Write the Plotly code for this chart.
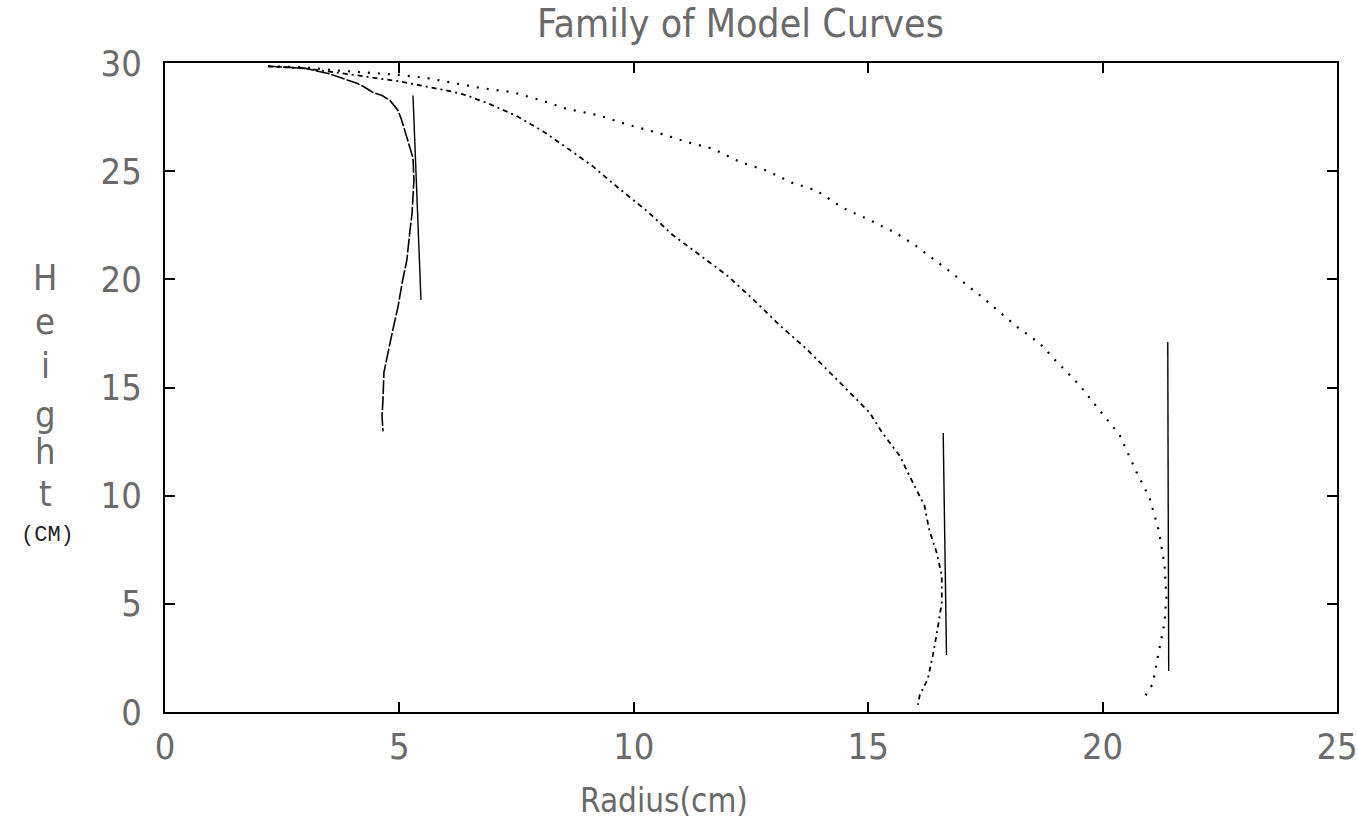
import plotly.graph_objects as go

# ---- data ----
# curve 1 (small radius, near-solid dashed line)
c1_r = [2.2, 3.0, 3.5, 3.94, 4.09, 4.26, 4.43, 4.63, 4.8, 4.97, 5.05, 5.14, 5.22, 5.29, 5.31,
        5.29, 5.27, 5.22, 5.16, 5.07, 4.97, 4.86, 4.75, 4.67, 4.65, 4.63, 4.65]
c1_h = [29.85, 29.75, 29.5, 29.2, 29.07, 28.88, 28.65, 28.5, 28.27, 27.81, 27.35, 26.7, 26.11, 25.6, 24.58,
        23.66, 23.06, 22.14, 20.9, 19.97, 18.73, 17.67, 16.61, 15.7, 14.45, 13.67, 12.97]
# vertical reference line for curve 1
v1_r = [5.29, 5.46]
v1_h = [28.5, 19.05]

# curve 2 (dash-dot line)
c2_r = [2.2, 3.0, 3.7, 4.4, 5.0, 5.6, 6.14, 6.44, 6.93, 7.5, 8.06, 8.57, 9.13, 9.7, 10.28, 10.83,
        11.4, 11.98, 12.54, 13.11, 13.69, 14.24, 14.6, 15.03, 15.3, 15.67, 15.95, 16.2, 16.3,
        16.46, 16.57, 16.57, 16.48, 16.38, 16.27, 16.1, 16.06]
c2_h = [29.85, 29.75, 29.55, 29.35, 29.15, 28.9, 28.67, 28.5, 28.1, 27.55, 26.85, 26.08, 25.22, 24.17, 23.16, 22.05,
        21.14, 20.2, 19.09, 17.88, 16.77, 15.56, 14.8, 13.84, 12.91, 11.85, 10.61, 9.54, 8.43,
        7.37, 6.31, 5.07, 3.83, 2.63, 1.52, 0.78, 0.33]
v2_r = [16.6, 16.67]
v2_h = [12.9, 2.63]

# curve 3 (dotted line)
c3_r = [2.2, 3.0, 3.7, 4.3, 5.0, 5.6, 6.14, 6.72, 7.42, 8.0, 8.57, 9.27, 9.85, 10.55, 11.13, 11.68,
        12.26, 12.84, 13.37, 13.9, 14.46, 15.03, 15.6, 16.03, 16.74, 17.44, 18.17, 18.66, 19.0,
        19.5, 20.0, 20.36, 20.72, 21.0, 21.2, 21.32, 21.36, 21.32, 21.2, 21.07, 20.85]
c3_h = [29.85, 29.8, 29.65, 29.55, 29.45, 29.3, 29.08, 28.85, 28.65, 28.29, 27.88, 27.57, 27.16, 26.75, 26.35, 26.04,
        25.43, 25.02, 24.47, 24.1, 23.3, 22.74, 22.13, 21.53, 20.37, 19.16, 17.81, 17.04, 16.24,
        15.13, 13.77, 12.82, 11.11, 9.91, 8.37, 6.85, 5.3, 4.1, 2.8, 1.3, 0.53]
v3_r = [21.39, 21.41]
v3_h = [17.1, 1.9]

x_ticks = [0, 5, 10, 15, 20, 25]
y_ticks = [0, 5, 10, 15, 20, 25, 30]
title_text = "Family of Model Curves"
x_title = "Radius(cm)"
y_letters = ["H", "e", "i", "g", "h", "t"]
y_unit = "(CM)"

DOT_FONT = "Liberation Sans Narrow, DejaVu Sans Condensed, Arial Narrow, sans-serif"
GREY = "#6a6a6a"

W, H = 1357, 824
pl, pr, pt, pb = 165, 20, 63, 112
pw, ph = W - pl - pr, H - pt - pb

fig = go.Figure()
fig.add_trace(go.Scatter(x=c1_r, y=c1_h, mode="lines",
                         line=dict(color="black", width=1.6, dash="14px,2px")))
fig.add_trace(go.Scatter(x=v1_r, y=v1_h, mode="lines", line=dict(color="black", width=1.4)))
fig.add_trace(go.Scatter(x=c2_r, y=c2_h, mode="lines",
                         line=dict(color="black", width=1.8, dash="5px,4px,2px,4px")))
fig.add_trace(go.Scatter(x=v2_r, y=v2_h, mode="lines", line=dict(color="black", width=1.4)))
fig.add_trace(go.Scatter(x=c3_r, y=c3_h, mode="lines",
                         line=dict(color="black", width=2.2, dash="2px,8px")))
fig.add_trace(go.Scatter(x=v3_r, y=v3_h, mode="lines", line=dict(color="black", width=1.4)))

axis_common = dict(showline=True, linecolor="black", linewidth=2, mirror="ticks",
                   ticks="inside", ticklen=10, tickwidth=1.5, tickcolor="black",
                   showgrid=False, zeroline=False,
                   tickfont=dict(family=DOT_FONT, size=36, color=GREY))

fig.update_xaxes(range=[0, 25], tickvals=x_ticks, ticktext=[str(v) for v in x_ticks],
                 ticklabelstandoff=2, ticklabeloverflow="allow", **axis_common)
fig.update_yaxes(range=[0, 30], tickvals=y_ticks, ticktext=[str(v) for v in y_ticks],
                 ticklabelstandoff=14, ticklabeloverflow="allow", **axis_common)

fig.update_layout(
    width=W, height=H,
    margin=dict(l=pl, r=pr, t=pt, b=pb, autoexpand=False),
    paper_bgcolor="white", plot_bgcolor="white",
    showlegend=False,
)


def px_ann(text, x, y, size, color=GREY, family=DOT_FONT):
    fig.add_annotation(text=text, xref="paper", yref="paper",
                       x=(x - pl) / pw, y=(H - pb - y) / ph,
                       xanchor="center", yanchor="middle", showarrow=False,
                       font=dict(family=family, size=size, color=color))


px_ann(title_text, 740, 24, 39)
px_ann(x_title, 664, 800, 33)
for letter, yy in zip(y_letters, [277, 321, 365, 414, 451, 493]):
    px_ann(letter, 45, yy, 36)
px_ann(y_unit, 47, 535, 22, color="#222", family="Liberation Mono, DejaVu Sans Mono, monospace")

fig.write_html("out.html", config={"displayModeBar": False},
               post_script="document.body.style.margin='0';document.body.style.padding='0';")
